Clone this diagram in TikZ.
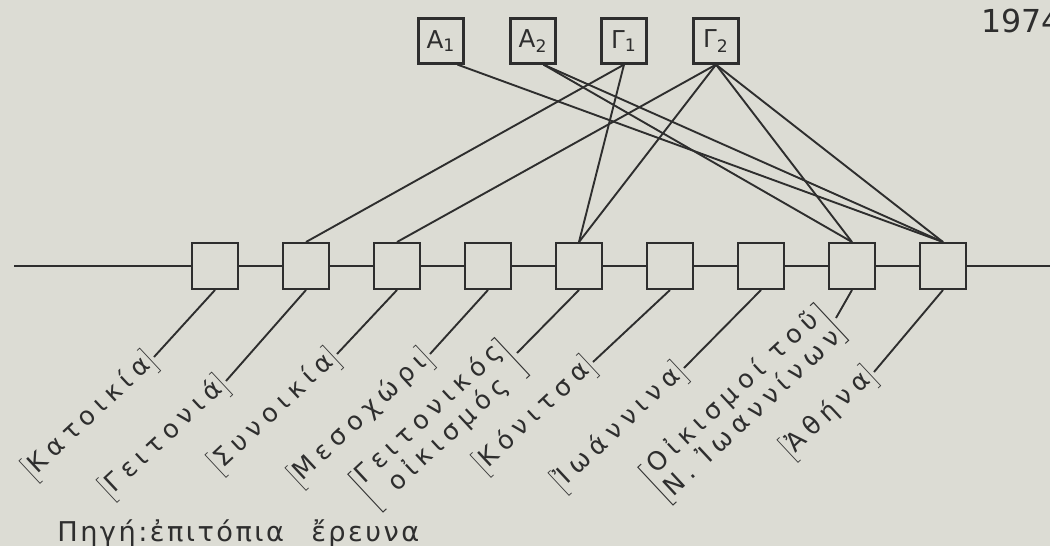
\documentclass[tikz,border=0pt]{standalone}
\usepackage{fontspec}
\setmainfont{DejaVu Sans}
\newfontfamily\stencil{DejaVu Sans}[LetterSpace=24]
\usepackage{tikz}
\definecolor{paper}{HTML}{DCDCD4}
\definecolor{ink}{HTML}{2E2E2E}
\newcommand{\brk}[1]{$\left[\begin{tabular}{@{}c@{}}#1\end{tabular}\right]$}
\tikzset{
  stop/.style={draw=ink, fill=paper, line width=0.4mm, minimum size=9.2mm, inner sep=0pt},
  group/.style={draw=ink, fill=paper, line width=0.45mm, minimum size=9mm, inner sep=0pt, text=ink, font=\fontsize{14}{16}\selectfont},
  place/.style={inner sep=0pt, anchor=east, rotate=43, text=ink, font=\stencil\fontsize{14.5}{15}\selectfont},
  wire/.style={draw=ink, line width=0.38mm},
  note/.style={inner sep=0pt, anchor=base west, text=ink}
}

\begin{document}
\begin{tikzpicture}[x=0.2mm, y=-0.2mm]
  \fill[paper] (0,0) rectangle (1050,546);
  \useasboundingbox (0,0) rectangle (1050,546);
  \node[note, font=\fontsize{18}{20}\selectfont] (year) at (981,32) {1974};

  \node[group] (a1) at (441,41) {Α\textsubscript{1}};
  \node[group] (a2) at (533,41) {Α\textsubscript{2}};
  \node[group] (g1) at (624,41) {Γ\textsubscript{1}};
  \node[group] (g2) at (716,41) {Γ\textsubscript{2}};

  \coordinate (lstart) at (14,266);
  \coordinate (lend) at (1050,266);
  \node[stop] (b1) at (215,266) {};
  \node[stop] (b2) at (306,266) {};
  \node[stop] (b3) at (397,266) {};
  \node[stop] (b4) at (488,266) {};
  \node[stop] (b5) at (579,266) {};
  \node[stop] (b6) at (670,266) {};
  \node[stop] (b7) at (761,266) {};
  \node[stop] (b8) at (852,266) {};
  \node[stop] (b9) at (943,266) {};
  \draw[wire] (lstart) -- (b1) -- (b2) -- (b3) -- (b4) -- (b5) -- (b6) -- (b7) -- (b8) -- (b9) -- (lend);

  \draw[wire] (a1.-55) -- (b9.north);
  \draw[wire] (a2.-66) -- (b8.north);
  \draw[wire] (a2.-66) -- (b9.north);
  \draw[wire] (g1.south) -- (b2.north);
  \draw[wire] (g1.south) -- (b5.north);
  \draw[wire] (g2.south) -- (b3.north);
  \draw[wire] (g2.south) -- (b5.north);
  \draw[wire] (g2.south) -- (b8.north);
  \draw[wire] (g2.south) -- (b9.north);

  \node[place] (l1) at (154,357) {\brk{Κατοικία}};
  \node[place] (l2) at (226,381) {\brk{Γειτονιά}};
  \node[place] (l3) at (337,354) {\brk{Συνοικία}};
  \node[place] (l4) at (430,354) {\brk{Μεσοχώρι}};
  \node[place] (l5) at (517,353) {\brk{Γειτονικός\\οἰκισμός}};
  \node[place] (l6) at (593,362) {\brk{Κόνιτσα}};
  \node[place] (l7) at (684,368) {\brk{Ἰωάννινα}};
  \node[place] (l8) at (836,318) {\brk{Οἰκισμοί τοῦ\\Ν. Ἰωαννίνων}};
  \node[place] (l9) at (874,372) {\brk{Ἀθήνα}};
  \draw[wire] (b1.south) -- (l1.east);
  \draw[wire] (b2.south) -- (l2.east);
  \draw[wire] (b3.south) -- (l3.east);
  \draw[wire] (b4.south) -- (l4.east);
  \draw[wire] (b5.south) -- (l5.east);
  \draw[wire] (b6.south) -- (l6.east);
  \draw[wire] (b7.south) -- (l7.east);
  \draw[wire] (b8.south) -- (l8.east);
  \draw[wire] (b9.south) -- (l9.east);

  \node[note, font=\stencil\addfontfeature{LetterSpace=9}\fontsize{15.5}{17}\selectfont] (src) at (57,541) {Πηγή:ἐπιτόπια\hspace{1em}ἔρευνα};
\end{tikzpicture}
\end{document}
